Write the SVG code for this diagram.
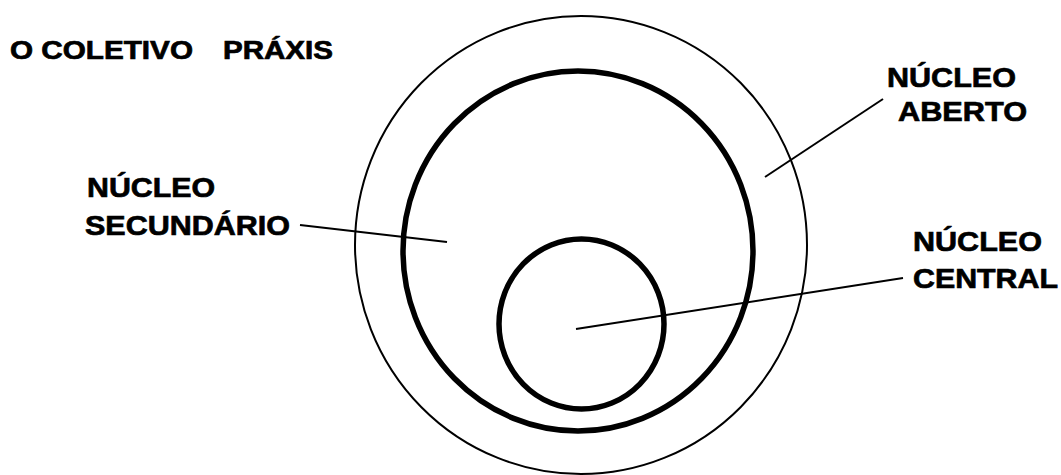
<svg xmlns="http://www.w3.org/2000/svg" width="1061" height="475" viewBox="0 0 1061 475">
<style>
text{font-family:"Liberation Sans",Arial,sans-serif;font-weight:bold;fill:#000;stroke:#000;stroke-width:0.7;font-size:28px}
.thin{fill:none;stroke:#000;stroke-width:2}
.thick{fill:none;stroke:#000;stroke-width:5.5}
.lead{stroke:#000;stroke-width:2;fill:none}
</style>
<rect width="1061" height="475" fill="#fff"/>
<g id="title"><text style="font-size:25px"><tspan x="10" y="59" textLength="183" lengthAdjust="spacingAndGlyphs">O COLETIVO</tspan> <tspan x="223" y="59" textLength="110" lengthAdjust="spacingAndGlyphs">PRÁXIS</tspan></text></g>
<g id="nucleo-aberto">
<ellipse class="thin" cx="581" cy="245" rx="226" ry="229"/>
<text><tspan x="887" y="87" textLength="129" lengthAdjust="spacingAndGlyphs">NÚCLEO</tspan><tspan x="898" y="121" textLength="129" lengthAdjust="spacingAndGlyphs">ABERTO</tspan></text>
</g>
<g id="nucleo-secundario">
<ellipse class="thick" cx="578" cy="251" rx="175" ry="180"/>
<text><tspan x="87" y="197" textLength="128" lengthAdjust="spacingAndGlyphs">NÚCLEO</tspan><tspan x="85" y="235" textLength="205" lengthAdjust="spacingAndGlyphs">SECUNDÁRIO</tspan></text>
</g>
<g id="nucleo-central">
<ellipse class="thick" cx="581.5" cy="324" rx="82.5" ry="85"/>
<text><tspan x="913" y="251" textLength="129" lengthAdjust="spacingAndGlyphs">NÚCLEO</tspan><tspan x="913" y="288" textLength="145" lengthAdjust="spacingAndGlyphs">CENTRAL</tspan></text>
</g>
<g id="connectors">
<line class="lead" x1="765" y1="177" x2="883" y2="99"/>
<line class="lead" x1="300" y1="225" x2="447" y2="242"/>
<line class="lead" x1="576" y1="329" x2="903" y2="278"/>
</g>
</svg>
